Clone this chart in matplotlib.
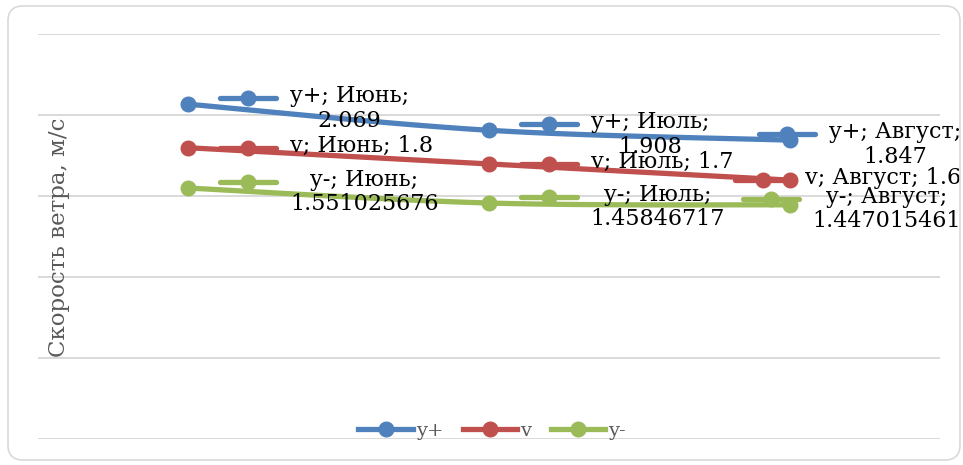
import numpy as np
import matplotlib.pyplot as plt
from matplotlib.lines import Line2D
from matplotlib.patches import FancyBboxPatch
from matplotlib.offsetbox import DrawingArea, TextArea, HPacker, AnnotationBbox

months = ['Июнь', 'Июль', 'Август']
names = ['y+', 'v', 'y-']
y_plus = [2.069, 1.908, 1.847]
v = [1.8, 1.7, 1.6]
y_minus = [1.551025676, 1.45846717, 1.447015461]
series = [y_plus, v, y_minus]
colors = ['#4F81BD', '#C0504D', '#9BBB59']
wrap = [True, False, True]   # v labels fit on one line

plt.rcParams['font.family'] = ['DejaVu Serif']

LW = 3.8
MS = 10.5


def smooth(xs, ys, n=40):
    # bezier smoothing like the office "smoothed line" option
    p = np.column_stack([xs, ys]).astype(float)
    pts = np.vstack([p[0], p, p[-1]])
    t = np.linspace(0, 1, n)[:, None]
    out = []
    for i in range(len(p) - 1):
        p0, p1, p2, p3 = pts[i], pts[i + 1], pts[i + 2], pts[i + 3]
        c1 = p1 + (p2 - p0) / 6
        c2 = p2 - (p3 - p1) / 6
        seg = (1 - t)**3 * p1 + 3 * (1 - t)**2 * t * c1 + 3 * (1 - t) * t**2 * c2 + t**3 * p2
        out.append(seg)
    return np.vstack(out)


fig = plt.figure(figsize=(9.63, 4.65), dpi=100)
fig.patch.set_facecolor('white')
ax = fig.add_axes([38 / 963, 1 - 439 / 465, 902 / 963, 404.5 / 465])

x = np.arange(len(months))
for vals, col in zip(series, colors):
    c = smooth(x, vals)
    ax.plot(c[:, 0], c[:, 1], color=col, lw=LW, solid_capstyle='round', zorder=3)
    ax.plot(x, vals, 'o', color=col, ms=MS, zorder=4)

ax.set_xlim(-0.5, 2.5)
ax.set_ylim(0, 2.5)
ax.set_yticks(np.arange(0, 2.51, 0.5))
ax.set_xticks([])
ax.tick_params(left=False, labelleft=False)
ax.grid(axis='y', color='#D9D9D9', lw=1.4)
for s in ax.spines.values():
    s.set_visible(False)

# data labels: legend key + text, to the right of each point
boxes = []
for name, vals, col, wr in zip(names, series, colors, wrap):
    for i, val in enumerate(vals):
        txt = f'{name}; {months[i]};' + ('\n' if wr else ' ') + str(val)
        key = DrawingArea(43, 19, 0, 0)
        key.add_artist(Line2D([1.5, 41.5], [9.5, 9.5], color=col, lw=LW,
                              solid_capstyle='round'))
        key.add_artist(Line2D([21.5], [9.5], marker='o', color=col, ms=MS))
        ta = TextArea(txt, textprops=dict(fontsize=16, color='black',
                                          multialignment='center', linespacing=1.15))
        pk = HPacker(children=[key, ta], align='top', pad=0, sep=8.5)
        dy = -3 if wr else 0
        ab = AnnotationBbox(pk, (i, val), xybox=(21.6, dy), xycoords='data',
                            boxcoords='offset points', box_alignment=(0, 0.5),
                            frameon=False, pad=0, zorder=5)
        ax.add_artist(ab)
        boxes.append(ab)

# keep labels inside the chart area
fig.canvas.draw()
r = fig.canvas.get_renderer()
for ab in boxes:
    bb = ab.get_window_extent(r)
    over = bb.x1 - 961
    if over > 0:
        ab.xybox = (ab.xybox[0] - over * 72 / fig.dpi, ab.xybox[1])

fig.text(0.061, 0.49, 'Скорость ветра, м/с', rotation=90, ha='center', va='center',
         fontsize=16.5, color='#595959')

handles = [Line2D([], [], color=col, lw=LW, marker='o', ms=MS) for col in colors]
fig.legend(handles, names, ncol=3, frameon=False, loc='center',
           bbox_to_anchor=(492 / 963, 1 - 431 / 465), fontsize=14,
           labelcolor='#595959', handlelength=2.8, handletextpad=0.15,
           columnspacing=1.0, borderpad=0, numpoints=1)

border = FancyBboxPatch((0.08, 0.05), 9.52, 4.54,
                        boxstyle='round,pad=0,rounding_size=0.15',
                        transform=fig.dpi_scale_trans, fill=False,
                        ec='#D9D9D9', lw=1.2)
fig.add_artist(border)

fig.savefig('out.png', dpi=100)
